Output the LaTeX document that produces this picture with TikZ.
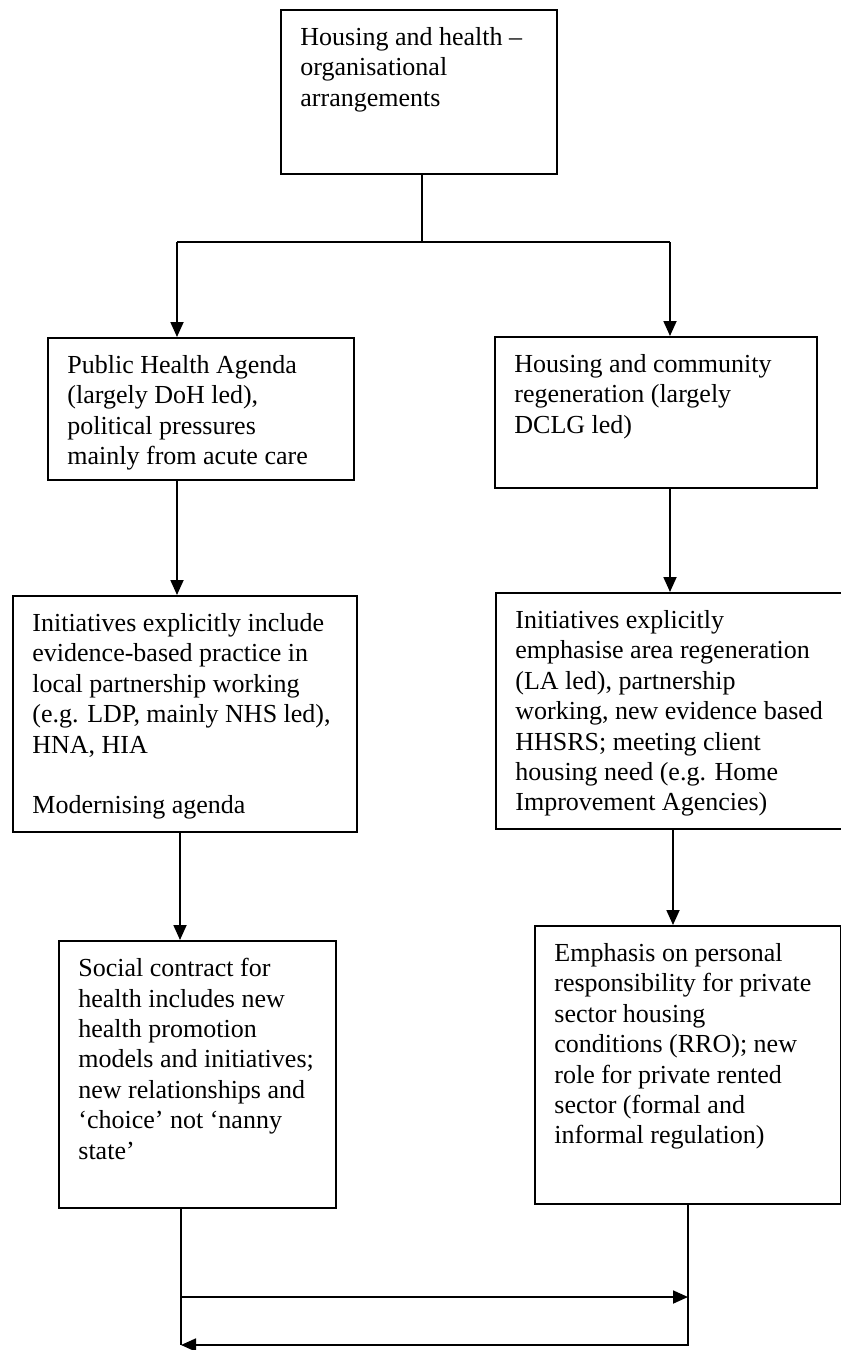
\documentclass[tikz,border=0pt]{standalone}
\usepackage{fontspec}
\setmainfont{Liberation Serif}
\usetikzlibrary{arrows.meta}
\begin{document}
\begin{tikzpicture}[x=0.5pt,y=-0.5pt,
  box/.style={draw, line width=0.9pt, rectangle, inner sep=0pt, anchor=north west},
  txt/.style={anchor=north west, inner sep=0pt, align=left, font=\fontsize{13}{15.2}\selectfont},
  link/.style={line width=0.9pt},
  flow/.style={line width=0.9pt, -{Triangle[length=7.5pt,width=6.5pt]}}]
\useasboundingbox (0,0) rectangle (841,1350);
\clip (0,0) rectangle (841,1350);
\fill[white] (0,0) rectangle (841,1350);

% boxes
\node[box, minimum width=138pt, minimum height=82pt]   (b0) at (280,9) {};
\node[box, minimum width=153pt, minimum height=71pt]   (L1) at (47,337) {};
\node[box, minimum width=161pt, minimum height=75.5pt] (R1) at (494,336) {};
\node[box, minimum width=172pt, minimum height=118pt]  (L2) at (12,595) {};
\node[box, minimum width=187.5pt, minimum height=118pt] (R2) at (495,592) {};
\node[box, minimum width=138.5pt, minimum height=133.5pt] (L3) at (58,940) {};
\node[box, minimum width=153pt, minimum height=139pt]  (R3) at (534,925) {};

% texts
\node[txt] (t0) at ([shift={(20,18)}]b0.north west) {Housing and health --\\organisational\\arrangements};
\node[txt] (tL1) at ([shift={(20,18)}]L1.north west) {Public Health Agenda\\(largely DoH led),\\political pressures\\mainly from acute care};
\node[txt] (tR1) at ([shift={(20,18)}]R1.north west) {Housing and community\\regeneration (largely\\DCLG led)};
\node[txt] (tL2) at ([shift={(20,18)}]L2.north west) {Initiatives explicitly include\\evidence-based practice in\\local partnership working\\(e.g. LDP, mainly NHS led),\\HNA, HIA\\[15.2pt]Modernising agenda};
\node[txt] (tR2) at ([shift={(20,18)}]R2.north west) {Initiatives explicitly\\emphasise area regeneration\\(LA led), partnership\\working, new evidence based\\HHSRS; meeting client\\housing need (e.g. Home\\Improvement Agencies)};
\node[txt] (tL3) at ([shift={(20,18)}]L3.north west) {Social contract for\\health includes new\\health promotion\\models and initiatives;\\new relationships and\\‘choice’ not ‘nanny\\state’};
\node[txt] (tR3) at ([shift={(20,18)}]R3.north west) {Emphasis on personal\\responsibility for private\\sector housing\\conditions (RRO); new\\role for private rented\\sector (formal and\\informal regulation)};

% junctions
\coordinate (jL) at (177,242);
\coordinate (jR) at (670,242);
\coordinate (cL) at (180,0);
\coordinate (cR) at (673,0);
\coordinate (a1) at (181,1297);
\coordinate (a2) at (688,1297);
\coordinate (bL) at (181,1345);
\coordinate (bR) at (688,1345);

% connectors
\draw[link] (b0.south -| 422,0) -- (422,242);
\draw[link] (jL) -- (jR);
\draw[flow] (jL) -- (jL |- L1.north);
\draw[flow] (jR) -- (jR |- R1.north);
\draw[flow] (jL |- L1.south) -- (jL |- L2.north);
\draw[flow] (jR |- R1.south) -- (jR |- R2.north);
\draw[flow] (cL |- L2.south) -- (cL |- L3.north);
\draw[flow] (cR |- R2.south) -- (cR |- R3.north);
\draw[link] (a1 |- L3.south) -- (bL);
\draw[flow] (a1) -- (a2);
\draw[flow] (a2 |- R3.south) -- (bR) -- (bL);
\end{tikzpicture}
\end{document}
